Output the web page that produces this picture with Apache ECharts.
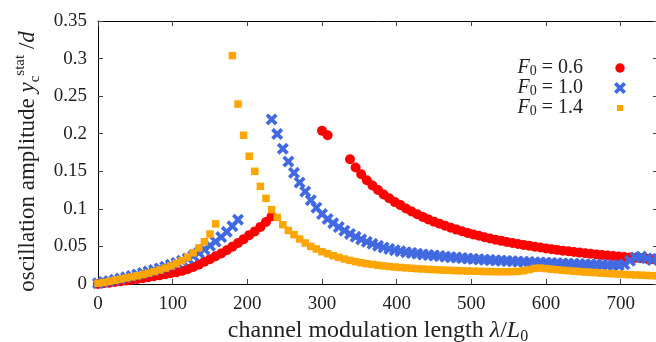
<!DOCTYPE html>
<html>
<head>
<meta charset="utf-8">
<script src="https://cdn.jsdelivr.net/npm/echarts@6/dist/echarts.min.js"></script>
<style>
  html, body { margin: 0; padding: 0; background: #fff; }
  #chart { width: 656px; height: 342px; }
</style>
</head>
<body>
<div id="chart"></div>
<script>
// channel modulation length lambda / L0
const lambda = [
  0, 7.5, 15, 22.5, 30, 37.5, 45, 52.5, 60, 67.5, 75, 82.5, 90, 97.5, 105, 112.5, 120, 127.5, 135, 142.5,
  150, 157.5, 165, 172.5, 180, 187.5, 195, 202.5, 210, 217.5, 225, 232.5, 240, 247.5, 255, 262.5, 270, 277.5, 285, 292.5,
  300, 307.5, 315, 322.5, 330, 337.5, 345, 352.5, 360, 367.5, 375, 382.5, 390, 397.5, 405, 412.5, 420, 427.5, 435, 442.5,
  450, 457.5, 465, 472.5, 480, 487.5, 495, 502.5, 510, 517.5, 525, 532.5, 540, 547.5, 555, 562.5, 570, 577.5, 585, 592.5,
  600, 607.5, 615, 622.5, 630, 637.5, 645, 652.5, 660, 667.5, 675, 682.5, 690, 697.5, 705, 712.5, 720, 727.5, 735, 742.5,
  750
];

// F0 = 0.6
const ampF06 = [
  0, 0.0009, 0.0017, 0.0026, 0.0035, 0.0045, 0.0056, 0.0067, 0.0078, 0.009, 0.0102, 0.0115, 0.0129, 0.0143, 0.0158, 0.0175,
  0.0198, 0.0226, 0.0258, 0.0295, 0.033, 0.037, 0.0407, 0.045, 0.0497, 0.0545, 0.0597, 0.065, 0.07, 0.076, 0.0825, 0.09,
  null, null, null, null, null, null, null, null,
  0.204, 0.198,
  null, null, null,
  0.166, 0.155, 0.146, 0.138, 0.131, 0.125, 0.119, 0.114, 0.109, 0.105, 0.1005, 0.0965, 0.0928, 0.0893, 0.086,
  0.083, 0.0801, 0.0774, 0.0748, 0.0724, 0.0701, 0.068, 0.066, 0.0641, 0.0623, 0.0606, 0.059, 0.0574, 0.056, 0.0546,
  0.0533, 0.052, 0.0508, 0.0496, 0.0485, 0.0474, 0.0464, 0.0454, 0.0444, 0.0435, 0.0426, 0.0418, 0.041, 0.0402, 0.0394,
  0.0387, 0.038, 0.0373, 0.0366, 0.036, 0.0354, 0.0348, 0.0342, 0.0336, 0.0331, 0.0326
];

// F0 = 1.0
const ampF10 = [
  0.001, 0.0025, 0.004, 0.0056, 0.0073, 0.009, 0.0108, 0.0126, 0.0145, 0.0165, 0.0185, 0.0207, 0.023, 0.0255, 0.028,
  0.031, 0.034, 0.0375, 0.0415, 0.046, 0.051, 0.0565, 0.0625, 0.0695, 0.077, 0.0856,
  null, null, null, null, null,
  0.219, 0.1996, 0.18, 0.163, 0.148, 0.135, 0.123, 0.1115, 0.1015, 0.093, 0.0865, 0.081, 0.0758, 0.071, 0.0667,
  0.0628, 0.0593, 0.0562, 0.0534, 0.0509, 0.0487, 0.0467, 0.045,
  0.0436, 0.0424, 0.0413, 0.0403, 0.0394, 0.0386, 0.0378, 0.0371, 0.0364, 0.0357, 0.0351, 0.0345, 0.0339, 0.0334,
  0.0329, 0.0324, 0.0319, 0.0315, 0.0311, 0.0307, 0.0303, 0.0299, 0.0295, 0.0292, 0.0289, 0.0286, 0.0283, 0.028,
  0.0277, 0.0274, 0.0271, 0.0268, 0.0265, 0.0262, 0.026, 0.0257, 0.0255, 0.0252, 0.025, 0.0248,
  0.0262, 0.031, 0.0352, 0.0365, 0.0342, 0.0318, 0.0335
];

// F0 = 1.4
const ampF14 = [
  0.001, 0.002, 0.0035, 0.005, 0.0065, 0.008, 0.0095, 0.011, 0.0127, 0.0145, 0.0165, 0.0187, 0.0212, 0.024, 0.0272,
  0.031, 0.0357, 0.0415, 0.048, 0.0562, 0.0665, 0.08,
  null, null,
  0.304, 0.2395, 0.198, 0.17, 0.15, 0.13, 0.114, 0.099, 0.0886, 0.0789, 0.0713, 0.0656, 0.0599, 0.0546, 0.05, 0.0466,
  0.043, 0.0403, 0.0377, 0.0354, 0.0333, 0.0314, 0.0297, 0.0283, 0.027, 0.026, 0.025, 0.0241, 0.0233, 0.0226,
  0.022, 0.0214, 0.0209, 0.0204, 0.0199, 0.0195, 0.0191, 0.0187, 0.0184, 0.0181, 0.0178, 0.0175, 0.0173, 0.0171,
  0.0169, 0.0167, 0.0165, 0.0164, 0.0163, 0.0163,
  0.0165, 0.0168, 0.0176, 0.0192, 0.0208, 0.0212, 0.0205, 0.0197, 0.019, 0.0183, 0.0177, 0.0171, 0.0165, 0.016,
  0.0155, 0.015, 0.0145, 0.014, 0.0136, 0.0132, 0.0128, 0.0124, 0.012, 0.0117, 0.0114, 0.0111, 0.0108
];

const seriesNames = ['F0 = 0.6', 'F0 = 1.0', 'F0 = 1.4'];
const xLabelMax = 700;

const serif = 'Liberation Serif';
const crossPath = 'path://M2.2,0 L5,2.8 L7.8,0 L10,2.2 L7.2,5 L10,7.8 L7.8,10 L5,7.2 L2.2,10 L0,7.8 L2.8,5 L0,2.2 Z';
// legend icons: invisible move-to points pad the box so the marks keep their relative size
const circleIcon = 'path://M0,0 M12,12 M6,1.3 A4.7,4.7 0 1 1 5.99,1.3 Z';
const squareIcon = 'path://M0,0 M12,12 M3,3 L9,3 L9,9 L3,9 Z';

function pairs(ys) {
  const out = [];
  ys.forEach((y, i) => { if (y !== null) out.push([lambda[i], y]); });
  return out;
}

const chart = echarts.init(document.getElementById('chart'));

const axisCommon = {
  axisLine: { show: true, onZero: false, lineStyle: { color: '#000', width: 1 } },
  axisTick: { show: true, inside: true, length: 5, lineStyle: { color: '#444' } },
  splitLine: { show: false }
};

chart.setOption({
  animation: false,
  backgroundColor: '#fff',
  grid: { left: 98, right: -2, top: 21, bottom: 58, containLabel: false, outerBoundsMode: 'none' },
  legend: {
    orient: 'vertical',
    align: 'right',
    right: 25,
    top: 53,
    itemWidth: 64,
    itemHeight: 12,
    itemGap: 0,
    padding: 5,
    data: [
      { name: seriesNames[0], icon: circleIcon },
      { name: seriesNames[1], icon: crossPath },
      { name: seriesNames[2], icon: squareIcon }
    ],
    formatter: function (name) {
      return '{i|F}{s|0}{n|' + name.slice(2) + '}';
    },
    textStyle: {
      color: '#222',
      fontFamily: serif,
      fontSize: 20,
      lineHeight: 20,
      rich: {
        i: { fontFamily: serif, fontStyle: 'italic', fontSize: 20, lineHeight: 20, color: '#222' },
        s: { fontFamily: serif, fontSize: 14, lineHeight: 20, verticalAlign: 'bottom', color: '#222' },
        n: { fontFamily: serif, fontSize: 20, lineHeight: 20, color: '#222' }
      }
    }
  },
  xAxis: [
    Object.assign({}, axisCommon, {
      type: 'value',
      min: 0,
      max: 750,
      interval: 100,
      position: 'bottom',
      name: '{n|channel modulation length }{i|λ}{n|/}{i|L}{s|0}',
      nameLocation: 'middle',
      nameGap: 28,
      nameTextStyle: {
        color: '#222',
        fontFamily: serif,
        fontSize: 24,
        rich: {
          n: { fontFamily: serif, fontSize: 24, color: '#222', lineHeight: 28 },
          i: { fontFamily: serif, fontSize: 24, fontStyle: 'italic', color: '#222', lineHeight: 28 },
          s: { fontFamily: serif, fontSize: 16, color: '#222', lineHeight: 28, verticalAlign: 'bottom' }
        }
      },
      axisLabel: {
        margin: 11,
        color: '#222',
        fontFamily: serif,
        fontSize: 19,
        formatter: function (v) { return v > xLabelMax ? '' : String(v); }
      }
    }),
    Object.assign({}, axisCommon, {
      type: 'value',
      min: 0,
      max: 750,
      interval: 100,
      position: 'top',
      axisLabel: { show: false }
    })
  ],
  yAxis: [
    Object.assign({}, axisCommon, {
      type: 'value',
      min: 0,
      max: 0.35,
      interval: 0.05,
      position: 'left',
      name: '{n|oscillation amplitude }{i|y}{sb|c}{sp|stat}{n| /}{i|d}',
      nameLocation: 'middle',
      nameGap: 54,
      nameTextStyle: {
        color: '#222',
        fontFamily: serif,
        fontSize: 23,
        padding: [0, 18, 0, 0],
        rich: {
          n: { fontFamily: serif, fontSize: 23, color: '#222', lineHeight: 30 },
          i: { fontFamily: serif, fontSize: 23, fontStyle: 'italic', color: '#222', lineHeight: 30 },
          sb: { fontFamily: serif, fontSize: 15, color: '#222', lineHeight: 30, verticalAlign: 'bottom' },
          sp: { fontFamily: serif, fontSize: 15, color: '#222', lineHeight: 30, verticalAlign: 'top' }
        }
      },
      axisLabel: {
        margin: 11,
        color: '#222',
        fontFamily: serif,
        fontSize: 19
      }
    }),
    Object.assign({}, axisCommon, {
      type: 'value',
      min: 0,
      max: 0.35,
      interval: 0.05,
      position: 'right',
      axisLabel: { show: false }
    })
  ],
  series: [
    {
      name: seriesNames[0],
      type: 'scatter',
      symbol: 'circle',
      symbolSize: 10,
      itemStyle: { color: '#ff0000', opacity: 1 },
      data: pairs(ampF06)
    },
    {
      name: seriesNames[1],
      type: 'scatter',
      symbol: crossPath,
      symbolSize: 12,
      itemStyle: { color: '#4169e1', opacity: 1 },
      data: pairs(ampF10)
    },
    {
      name: seriesNames[2],
      type: 'scatter',
      symbol: 'rect',
      symbolSize: 7.5,
      itemStyle: { color: '#ffa500', opacity: 1 },
      data: pairs(ampF14)
    }
  ]
});

window.addEventListener('resize', () => {
  chart.resize();
});
</script>
</body>
</html>
